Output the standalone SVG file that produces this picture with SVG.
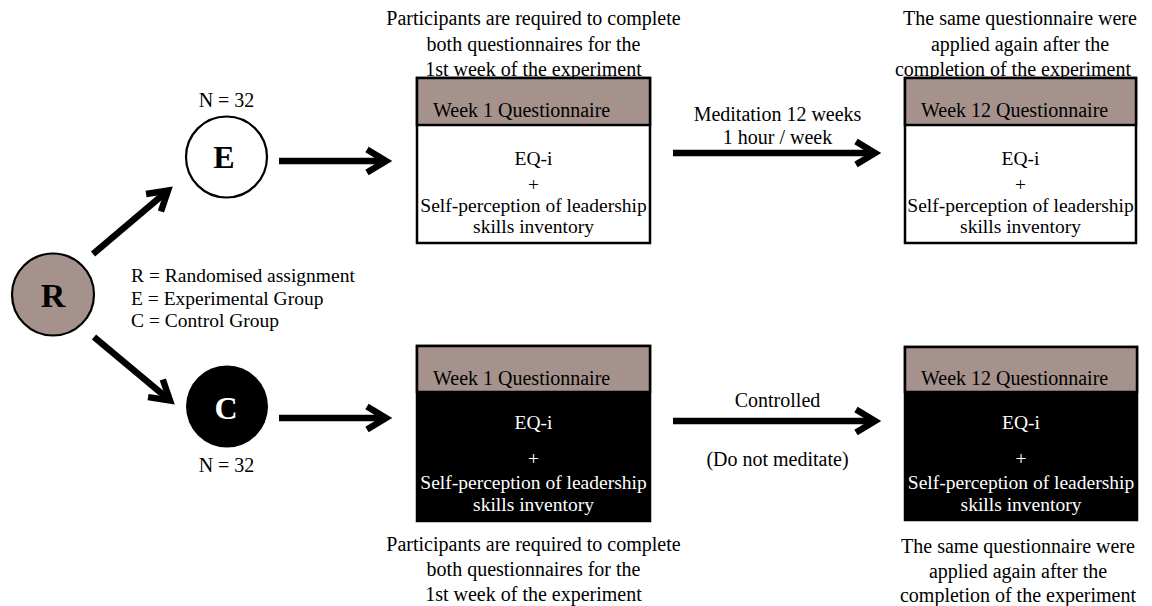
<svg xmlns="http://www.w3.org/2000/svg" width="1152" height="606" viewBox="0 0 1152 606">
<style>
text{font-family:"Liberation Serif","Times New Roman",serif;fill:#000}
.t{font-size:20px;text-anchor:middle}
.b{font-size:19.5px;text-anchor:middle}
.w{fill:#fff}
.h{font-size:20px}
.lg{font-size:19.5px}
.big{font-size:32px;font-weight:bold;text-anchor:middle}
.box{stroke:#000;stroke-width:2.5}
.hdr{fill:#a6928d;stroke:#000;stroke-width:2.5}
.arr{fill:none;stroke:#000;stroke-width:6.5;marker-end:url(#ah)}
</style>
<defs>
<marker id="ah" markerUnits="userSpaceOnUse" markerWidth="30" markerHeight="30" viewBox="0 0 30 30" refX="24" refY="15" orient="auto" overflow="visible">
<path d="M5,3.5 L24,15 L5,26.5" fill="none" stroke="#000" stroke-width="6.5"/>
</marker>
</defs>
<rect width="1152" height="606" fill="#fff"/>

<g id="connectors">
<line class="arr" x1="93" y1="254" x2="168" y2="190.5"/>
<line class="arr" x1="94" y1="337" x2="170" y2="400.5"/>
<line class="arr" x1="279" y1="161" x2="386" y2="161"/>
<line class="arr" x1="279" y1="418" x2="386" y2="418"/>
<line class="arr" x1="673" y1="153" x2="875" y2="153"/>
<line class="arr" x1="673" y1="421" x2="875" y2="421"/>
</g>

<g id="node-R">
<circle cx="53" cy="294.5" r="41" fill="#a6928d" stroke="#000" stroke-width="2.2"/>
<text class="big" x="53" y="306.5" style="font-size:34px">R</text>
</g>

<g id="node-E">
<circle cx="226.5" cy="157" r="40.5" fill="#fff" stroke="#000" stroke-width="2.2"/>
<text class="big" x="224" y="168">E</text>
<text class="t" x="226.5" y="107">N = 32</text>
</g>

<g id="node-C">
<circle cx="227" cy="406.5" r="41" fill="#000"/>
<text class="big w" x="226" y="419">C</text>
<text class="t" x="226.5" y="472">N = 32</text>
</g>

<g id="legend">
<text class="lg" x="131" y="282">R = Randomised assignment</text>
<text class="lg" x="131" y="304.5">E = Experimental Group</text>
<text class="lg" x="131" y="327">C = Control Group</text>
</g>

<g id="box-E-week1">
<text class="t" x="533.5" y="25">Participants are required to complete</text>
<text class="t" x="533.5" y="50.5">both questionnaires for the</text>
<text class="t" x="533.5" y="76">1st week of the experiment</text>
<rect class="box" x="417" y="78" width="233" height="165" fill="#fff"/>
<rect class="hdr" x="417" y="78" width="233" height="47"/>
<text class="h" x="433" y="117">Week 1 Questionnaire</text>
<text class="b" x="533.5" y="165">EQ-i</text>
<text class="b" x="533.5" y="191">+</text>
<text class="b" x="533.5" y="211.5">Self-perception of leadership</text>
<text class="b" x="533.5" y="233">skills inventory</text>
</g>

<g id="label-meditation">
<text class="t" x="777.5" y="121">Meditation 12 weeks</text>
<text class="t" x="777.5" y="144">1 hour / week</text>
</g>

<g id="box-E-week12">
<text class="t" x="1020" y="25">The same questionnaire were</text>
<text class="t" x="1020" y="50.5">applied again after the</text>
<text class="t" x="1013" y="76">completion of the experiment</text>
<rect class="box" x="905" y="78" width="231" height="165" fill="#fff"/>
<rect class="hdr" x="905" y="78" width="231" height="47"/>
<text class="h" x="921" y="117">Week 12 Questionnaire</text>
<text class="b" x="1020.5" y="165">EQ-i</text>
<text class="b" x="1020.5" y="191">+</text>
<text class="b" x="1020.5" y="211.5">Self-perception of leadership</text>
<text class="b" x="1020.5" y="233">skills inventory</text>
</g>

<g id="box-C-week1">
<rect class="box" x="417" y="346" width="233" height="175" fill="#000"/>
<rect class="hdr" x="417" y="346" width="233" height="46"/>
<text class="h" x="433" y="385">Week 1 Questionnaire</text>
<text class="b w" x="533.5" y="429">EQ-i</text>
<text class="b w" x="533.5" y="465">+</text>
<text class="b w" x="533.5" y="489">Self-perception of leadership</text>
<text class="b w" x="533.5" y="511">skills inventory</text>
<text class="t" x="533.5" y="551">Participants are required to complete</text>
<text class="t" x="533.5" y="576">both questionnaires for the</text>
<text class="t" x="533.5" y="601">1st week of the experiment</text>
</g>

<g id="label-controlled">
<text class="t" x="777.5" y="407">Controlled</text>
<text class="t" x="777.5" y="466">(Do not meditate)</text>
</g>

<g id="box-C-week12">
<rect class="box" x="905" y="347" width="232" height="173" fill="#000"/>
<rect class="hdr" x="905" y="347" width="232" height="45"/>
<text class="h" x="921" y="385">Week 12 Questionnaire</text>
<text class="b w" x="1021" y="429">EQ-i</text>
<text class="b w" x="1021" y="465">+</text>
<text class="b w" x="1021" y="489">Self-perception of leadership</text>
<text class="b w" x="1021" y="511">skills inventory</text>
<text class="t" x="1018" y="553">The same questionnaire were</text>
<text class="t" x="1018" y="578">applied again after the</text>
<text class="t" x="1018" y="602">completion of the experiment</text>
</g>
</svg>
